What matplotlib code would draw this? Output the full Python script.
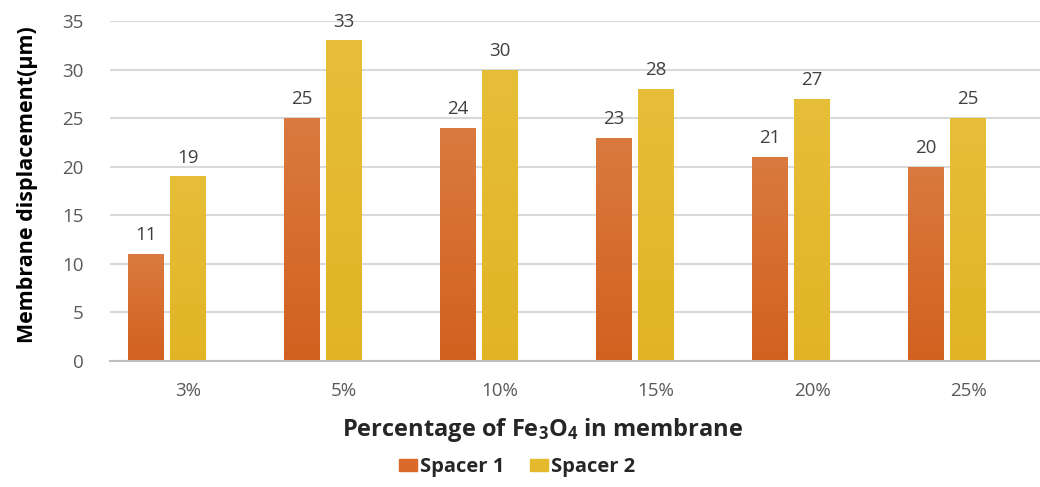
import matplotlib
matplotlib.use("Agg")
import matplotlib.pyplot as plt
from matplotlib.patches import Patch
from matplotlib.colors import LinearSegmentedColormap
import numpy as np

categories = ["3%", "5%", "10%", "15%", "20%", "25%"]
spacer1 = [11, 25, 24, 23, 21, 20]
spacer2 = [19, 33, 30, 28, 27, 25]
series_names = ["Spacer 1", "Spacer 2"]
yticks = [0, 5, 10, 15, 20, 25, 30, 35]

plt.rcParams["font.family"] = ["Open Sans", "DejaVu Sans"]
plt.rcParams["mathtext.fontset"] = "custom"
plt.rcParams["mathtext.rm"] = "Open Sans:bold"
plt.rcParams["mathtext.it"] = "Open Sans:bold"
plt.rcParams["mathtext.bf"] = "Open Sans:bold"

C1 = "#D96A2B"
C2 = "#E5B92E"
C1_TOP, C1_BOT = "#DA7A3E", "#D2611F"
C2_TOP, C2_BOT = "#E6BE38", "#E2B425"
TXT = "#595959"

fig = plt.figure(figsize=(10.4, 4.87), dpi=100)
ax = fig.add_axes([110 / 1040, 126 / 487, 930 / 1040, 340 / 487])

x = np.arange(len(categories))
w = 0.23
off = 0.27
bars1 = ax.bar(x - off, spacer1, width=w, color=C1, zorder=3)
bars2 = ax.bar(x, spacer2, width=w, color=C2, zorder=3)


def shade(bars, top, bottom):
    # vertical colour gradient painted inside each bar
    cmap = LinearSegmentedColormap.from_list("g", [bottom, top])
    grad = np.linspace(0, 1, 256).reshape(-1, 1)
    for b in bars:
        x0, y0 = b.get_x(), b.get_y()
        im = ax.imshow(grad, cmap=cmap, origin="lower", aspect="auto",
                       extent=(x0, x0 + b.get_width(), y0, y0 + b.get_height()),
                       zorder=3.5, interpolation="bicubic")
        im.set_clip_path(b)


shade(bars1, C1_TOP, C1_BOT)
shade(bars2, C2_TOP, C2_BOT)

for xi, v in zip(x - off, spacer1):
    ax.annotate(str(v), (xi, v), xytext=(0, 7), textcoords="offset points",
                ha="center", va="bottom", fontsize=13.5, color="#404040")
for xi, v in zip(x, spacer2):
    ax.annotate(str(v), (xi, v), xytext=(0, 7), textcoords="offset points",
                ha="center", va="bottom", fontsize=13.5, color="#404040")

ax.set_xlim(-0.5, 5.46)
ax.set_ylim(0, 35)
ax.set_yticks(yticks)
ax.set_xticks(x)
ax.set_xticklabels(categories)
ax.tick_params(axis="both", length=0, labelsize=13.5, labelcolor=TXT)
ax.tick_params(axis="y", pad=19)
ax.tick_params(axis="x", pad=15)
ax.grid(axis="y", color="#D9D9D9", linewidth=1.5, zorder=0)
for s in ["top", "right", "left"]:
    ax.spines[s].set_visible(False)
ax.spines["bottom"].set_color("#BFBFBF")
ax.spines["bottom"].set_linewidth(1.5)
ax.spines["bottom"].set_zorder(4)

fig.text(28 / 1040, 1 - 185 / 487, "Membrane displacement(\u03bcm)", rotation=90,
         ha="center", va="center", fontsize=15.5, fontweight="bold", color="black")
fig.text(543 / 1040, 1 - 430 / 487, r"Percentage of Fe$_3$O$_4$ in membrane",
         ha="center", va="center", fontsize=17, fontweight="bold", color="#262626")

handles = [Patch(color=C1), Patch(color=C2)]
leg = fig.legend(handles, series_names, loc="center", bbox_to_anchor=(517 / 1040, 1 - 467 / 487),
                 ncol=2, frameon=False, handlelength=0.9, handleheight=0.6,
                 handletextpad=0.15, columnspacing=1.3,
                 prop={"family": "Open Sans", "weight": "bold", "size": 14.5})
for t in leg.get_texts():
    t.set_color("#262626")

fig.savefig("out.png", dpi=100)
